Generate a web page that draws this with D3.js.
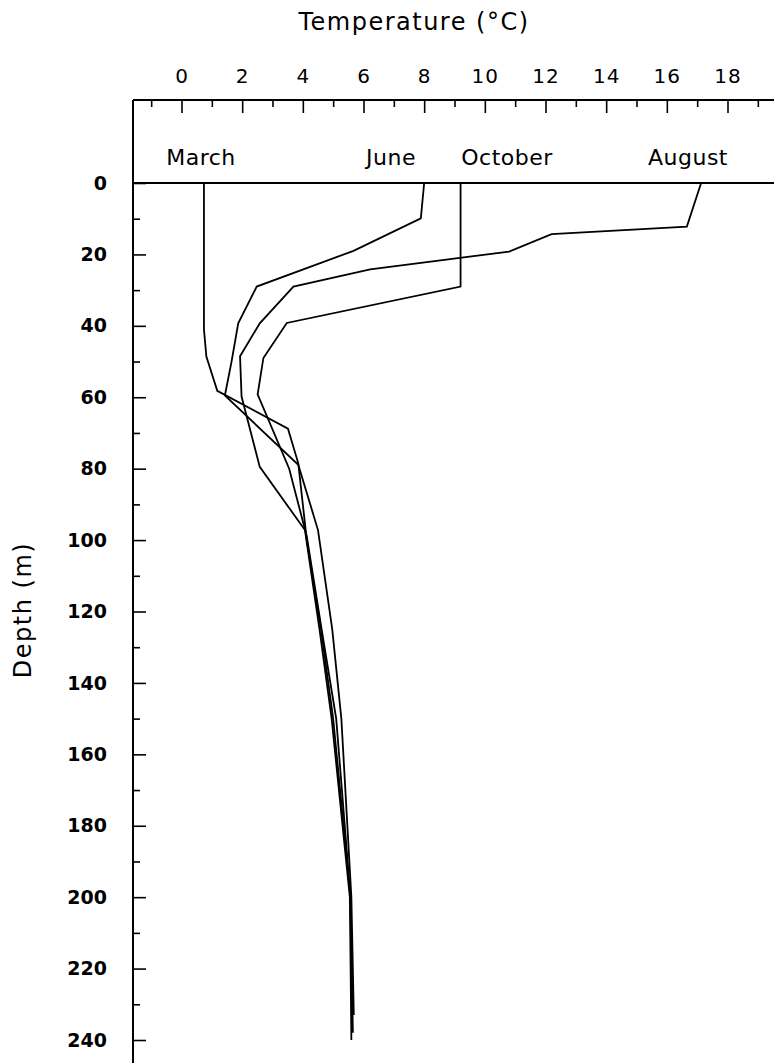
<!DOCTYPE html>
<html>
<head>
<meta charset="utf-8">
<script src="https://cdn.jsdelivr.net/npm/d3@7"></script>
<style>
body { margin: 0; background: #fff; }
#chart svg { display: block; }
.axis text { font-family: "DejaVu Sans", sans-serif; fill: #000; }
.axis line, .axis path { stroke: #000; stroke-width: 1.6; }
.profile { fill: none; stroke: #000; stroke-width: 1.8; stroke-linejoin: miter; }
.label { font-family: "DejaVu Sans", sans-serif; fill: #000; }
</style>
</head>
<body>
<div id="chart"></div>
<script>
// temperature profiles, depth in m / temperature in degC
var monthNames = ["March", "June", "October", "August"];

var marchDepth = [0, 41, 48.6, 58.2, 68.8, 78.5, 100, 125, 150, 200, 236];
var marchTemp  = [0.74, 0.74, 0.82, 1.18, 3.51, 3.85, 4.13, 4.6, 5.0, 5.57, 5.62];

var juneDepth = [0, 9.9, 19, 29, 39.3, 50, 59.5, 78.9, 97.2, 125, 150, 200, 233];
var juneTemp  = [8.0, 7.89, 5.67, 2.48, 1.87, 1.65, 1.43, 3.85, 4.5, 4.97, 5.27, 5.6, 5.68];

var octoberDepth = [0, 29, 39.2, 49, 59.2, 80, 99, 125, 150, 200, 238];
var octoberTemp  = [9.2, 9.2, 3.47, 2.7, 2.51, 3.55, 4.13, 4.62, 5.1, 5.57, 5.65];

var augustDepth = [0, 12.2, 14.3, 19.2, 24.2, 29, 39.3, 48.5, 59.8, 79.5, 97.2, 125, 150, 200, 240];
var augustTemp  = [17.13, 16.66, 12.2, 10.8, 6.22, 3.69, 2.58, 1.93, 1.98, 2.58, 4.07, 4.55, 4.95, 5.55, 5.6];

var tempMajor = [0, 2, 4, 6, 8, 10, 12, 14, 16, 18];
var tempMinor = [-1, 1, 3, 5, 7, 9, 11, 13, 15, 17, 19];
var depthMajor = [0, 20, 40, 60, 80, 100, 120, 140, 160, 180, 200, 220, 240];
var depthMinor = [10, 30, 50, 70, 90, 110, 130, 150, 170, 190, 210, 230];

var width = 774, height = 1063;
var frameLeft = 133, frameTop = 100, frameRight = 774, frameBottom = 1063;

var x = d3.scaleLinear().domain([0, 18]).range([181.5, 727.5]);
var y = d3.scaleLinear().domain([0, 240]).range([183, 1040]);

var svg = d3.select("#chart")
	.append("svg")
	.attr("width", width)
	.attr("height", height);

// top temperature axis, ticks point inward
var topAxis = svg.append("g")
	.attr("class", "axis")
	.attr("transform", "translate(0," + frameTop + ")")
	.call(d3.axisTop(x).tickValues(tempMajor).tickSize(-13).tickPadding(17));
topAxis.select(".domain").remove();
topAxis.selectAll("text").style("font-size", "20px").style("letter-spacing", "1px");

var topMinor = svg.append("g")
	.attr("class", "axis")
	.attr("transform", "translate(0," + frameTop + ")")
	.call(d3.axisTop(x).tickValues(tempMinor).tickSize(-7).tickFormat(""));
topMinor.select(".domain").remove();

// left depth axis
var leftAxis = svg.append("g")
	.attr("class", "axis")
	.attr("transform", "translate(" + frameLeft + ",0)")
	.call(d3.axisLeft(y).tickValues(depthMajor).tickSize(-13).tickPadding(26));
leftAxis.select(".domain").remove();
leftAxis.selectAll("text").style("font-size", "19px").style("font-weight", "bold");

var leftMinor = svg.append("g")
	.attr("class", "axis")
	.attr("transform", "translate(" + frameLeft + ",0)")
	.call(d3.axisLeft(y).tickValues(depthMinor).tickSize(-7).tickFormat(""));
leftMinor.select(".domain").remove();

// frame lines: top, left and the surface (0 m) line
svg.append("line")
	.attr("x1", frameLeft).attr("y1", frameTop)
	.attr("x2", frameRight).attr("y2", frameTop)
	.attr("stroke", "#000").attr("stroke-width", 2);
svg.append("line")
	.attr("x1", frameLeft).attr("y1", frameTop)
	.attr("x2", frameLeft).attr("y2", frameBottom)
	.attr("stroke", "#000").attr("stroke-width", 2);
svg.append("line")
	.attr("x1", frameLeft).attr("y1", y(0))
	.attr("x2", frameRight).attr("y2", y(0))
	.attr("stroke", "#000").attr("stroke-width", 2);

var series = [
	{name: "March", depth: marchDepth, temp: marchTemp},
	{name: "June", depth: juneDepth, temp: juneTemp},
	{name: "October", depth: octoberDepth, temp: octoberTemp},
	{name: "August", depth: augustDepth, temp: augustTemp}
];

var line = d3.line()
	.x(function(d){ return x(d[1]); })
	.y(function(d){ return y(d[0]); });

svg.selectAll(".profile")
	.data(series)
	.enter()
	.append("path")
	.attr("class", "profile")
	.attr("d", function(s){
		return line(s.depth.map(function(dep, i){ return [dep, s.temp[i]]; }));
	});

// month labels sit above the surface line
var monthX = {March: 201, June: 391, October: 507, August: 688};
svg.selectAll(".month")
	.data(monthNames)
	.enter()
	.append("text")
	.attr("class", "label month")
	.attr("x", function(d){ return monthX[d]; })
	.attr("y", 165)
	.attr("text-anchor", "middle")
	.style("font-size", "22px")
	.style("letter-spacing", "0.5px")
	.text(function(d){ return d; });

svg.append("text")
	.attr("class", "label")
	.attr("x", 414)
	.attr("y", 30)
	.attr("text-anchor", "middle")
	.style("font-size", "24px")
	.style("letter-spacing", "1.5px")
	.text("Temperature  (°C)");

svg.append("text")
	.attr("class", "label")
	.attr("transform", "translate(31,610) rotate(-90)")
	.attr("text-anchor", "middle")
	.style("font-size", "24px")
	.style("letter-spacing", "1.5px")
	.text("Depth  (m)");
</script>
</body>
</html>
